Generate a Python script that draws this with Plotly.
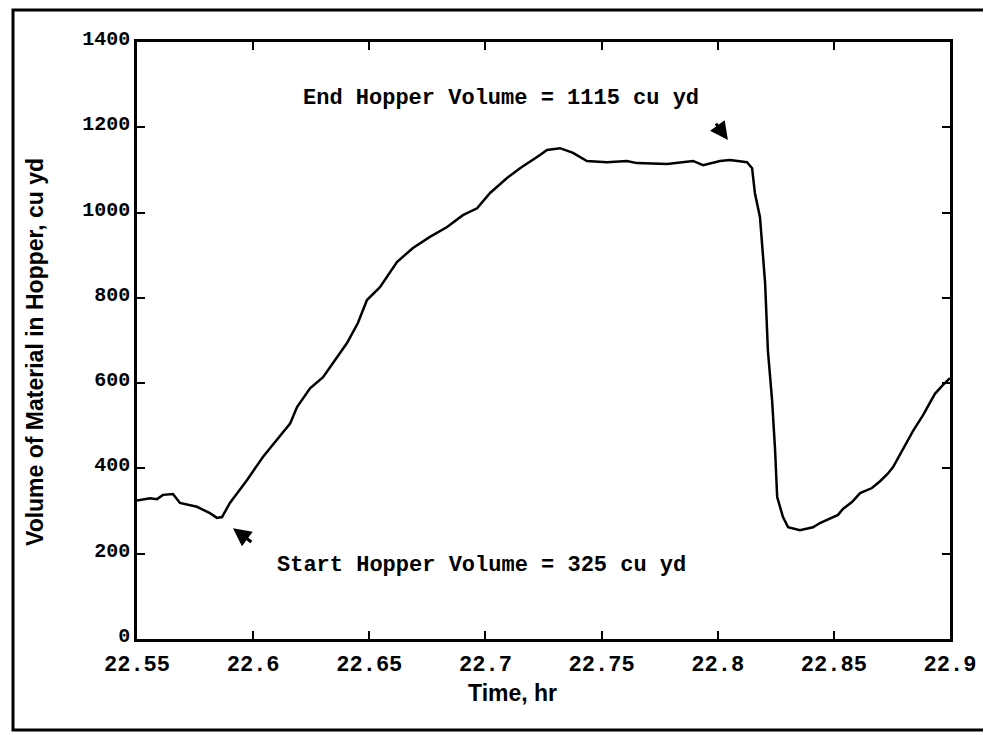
import plotly.graph_objects as go

time_hr = [22.550, 22.5556, 22.5586, 22.5612, 22.5655, 22.5685, 22.5758, 22.5814, 22.5844, 22.5866,
           22.5900, 22.5974, 22.6042, 22.6103, 22.6159, 22.6189, 22.6245, 22.6301, 22.6344, 22.6404,
           22.6451, 22.6490, 22.6546, 22.6589, 22.6619, 22.6688, 22.6761, 22.6835, 22.6903, 22.6964,
           22.7020, 22.7093, 22.7149, 22.7235, 22.7265, 22.7321, 22.7377, 22.7437, 22.7523, 22.7609,
           22.7652, 22.7782, 22.7894, 22.7937, 22.8010, 22.8053, 22.8126, 22.8148, 22.8160, 22.8182,
           22.8204, 22.8216, 22.8234, 22.8247, 22.8256, 22.8281, 22.8303, 22.8354, 22.8410, 22.8440,
           22.8518, 22.8539, 22.8578, 22.8613, 22.8664, 22.8699, 22.8731, 22.8755, 22.8798, 22.8841,
           22.8884, 22.8935, 22.8970, 22.9000]
volume_cuyd = [325, 330, 328, 338, 340, 319, 310, 295, 284, 286,
               319, 373, 427, 467, 505, 544, 588, 614, 647, 694,
               741, 795, 825, 858, 884, 917, 943, 966, 994, 1010,
               1046, 1081, 1104, 1135, 1147, 1151, 1140, 1121, 1118, 1121,
               1116, 1114, 1121, 1111, 1121, 1123, 1118, 1104, 1046, 989,
               835, 677, 560, 443, 333, 286, 262, 255, 262, 272,
               291, 305, 321, 342, 354, 370, 387, 403, 445, 488,
               525, 575, 596, 612]

x_ticks = [22.55, 22.6, 22.65, 22.7, 22.75, 22.8, 22.85, 22.9]
x_tick_labels = ["22.55", "22.6", "22.65", "22.7", "22.75", "22.8", "22.85", "22.9"]
y_ticks = [0, 200, 400, 600, 800, 1000, 1200, 1400]
y_tick_labels = ["0", "200", "400", "600", "800", "1000", "1200", "1400"]

end_label = "End Hopper Volume = 1115 cu yd"
start_label = "Start Hopper Volume = 325 cu yd"

mono = dict(family="Liberation Mono", size=22, color="black", weight="bold")
mono_y = dict(family="Liberation Mono", size=20, color="black", weight="bold")
sans = dict(family="Liberation Sans", size=23, color="black", weight="bold")

fig = go.Figure()
fig.add_trace(go.Scatter(x=time_hr, y=volume_cuyd, mode="lines",
                         line=dict(color="black", width=2.5), showlegend=False))

axis_common = dict(showgrid=False, zeroline=False, showline=True, linecolor="black", linewidth=2.5,
                   mirror="ticks", ticks="inside", ticklen=8, tickwidth=2, tickcolor="black")
fig.update_xaxes(range=[22.55, 22.9], tickvals=x_ticks, ticktext=x_tick_labels, tickfont=mono,
                 ticklabelstandoff=3, **axis_common)
fig.update_yaxes(range=[0, 1400], tickvals=y_ticks, ticktext=y_tick_labels, tickfont=mono_y,
                 ticklabelshift=-4, **axis_common)

fig.add_annotation(x=22.6206, y=1268, xref="x", yref="y", text=end_label, showarrow=False,
                   xanchor="left", yanchor="middle", font=mono)
fig.add_annotation(x=22.6094, y=173, xref="x", yref="y", text=start_label, showarrow=False,
                   xanchor="left", yanchor="middle", font=mono)
# arrows
fig.add_annotation(x=22.8044, y=1170, xref="x", yref="y", ax=-13, ay=-18, text="",
                   showarrow=True, arrowhead=2, arrowsize=1.2, arrowwidth=3, arrowcolor="black")
fig.add_annotation(x=22.5913, y=260, xref="x", yref="y", ax=20, ay=15, text="",
                   showarrow=True, arrowhead=2, arrowsize=1.2, arrowwidth=3, arrowcolor="black")

# axis titles
fig.add_annotation(x=(512 - 137) / 813, y=(639 - 693) / 597, xref="paper", yref="paper",
                   text="Time, hr", showarrow=False, xanchor="center", yanchor="middle", font=sans)
fig.add_annotation(x=(35 - 137) / 813, y=(639 - 352) / 597, xref="paper", yref="paper",
                   text="Volume of Material in Hopper, cu yd", textangle=-90, showarrow=False,
                   xanchor="center", yanchor="middle", font=sans)

# outer frame
fig.add_shape(type="rect", xref="paper", yref="paper",
              x0=(13 - 137) / 813, x1=(986 - 137) / 813,
              y0=(639 - 730) / 597, y1=(639 - 10) / 597,
              line=dict(color="black", width=3), fillcolor="rgba(0,0,0,0)")

# page body has an 8px margin, so the figure origin sits at (8, 8) in the window
fig.update_layout(width=983, height=727, margin=dict(l=129, r=41, t=34, b=96),
                  paper_bgcolor="white", plot_bgcolor="white")

fig.write_html("out.html")
